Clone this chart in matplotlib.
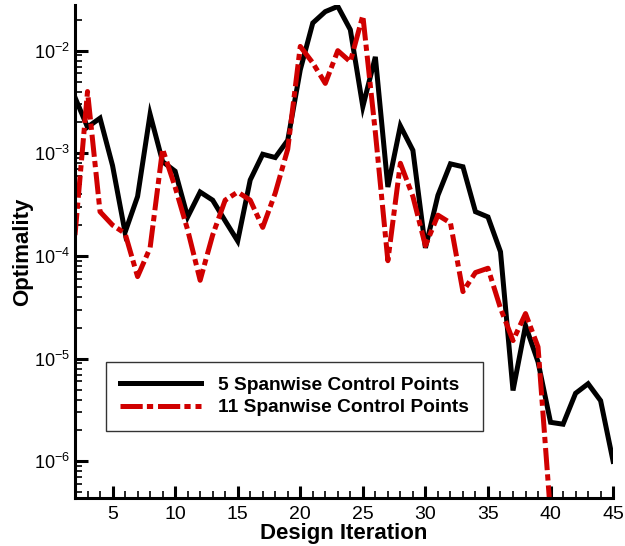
import matplotlib
matplotlib.use("Agg")
import matplotlib.pyplot as plt
from matplotlib.ticker import LogLocator, FixedLocator, MultipleLocator, NullFormatter

# Data
iter_5 = list(range(2, 46))
opt_5 = [3.5e-3, 1.8e-3, 2.2e-3, 7.6e-4, 1.7e-4, 3.8e-4, 2.4e-3, 8.3e-4, 6.7e-4, 2.4e-4,
         4.2e-4, 3.5e-4, 2.2e-4, 1.4e-4, 5.5e-4, 9.8e-4, 9.1e-4, 1.34e-3, 6.5e-3, 1.86e-2,
         2.4e-2, 2.7e-2, 1.6e-2, 2.85e-3, 8.7e-3, 4.7e-4, 1.85e-3, 1.07e-3, 1.2e-4, 3.9e-4,
         7.9e-4, 7.4e-4, 2.7e-4, 2.4e-4, 1.1e-4, 4.9e-6, 2.1e-5, 9.3e-6, 2.4e-6, 2.3e-6,
         4.6e-6, 5.7e-6, 3.9e-6, 1.0e-6]

iter_11 = list(range(2, 41))
opt_11 = [1.6e-4, 4.0e-3, 2.7e-4, 2.0e-4, 1.66e-4, 6.3e-5, 1.2e-4, 1.1e-3, 4.7e-4, 1.8e-4,
          5.8e-5, 1.6e-4, 3.5e-4, 4.2e-4, 3.5e-4, 1.9e-4, 4.1e-4, 1.1e-3, 1.1e-2, 7.6e-3,
          4.8e-3, 1.0e-2, 7.8e-3, 2.2e-2, 1.6e-3, 9.0e-5, 8.0e-4, 3.8e-4, 1.26e-4, 2.5e-4,
          2.1e-4, 4.5e-5, 6.9e-5, 7.6e-5, 3.1e-5, 1.5e-5, 2.75e-5, 1.3e-5, 3.0e-7]

labels = ["5 Spanwise Control Points", "11 Spanwise Control Points"]
xticks = [5, 10, 15, 20, 25, 30, 35, 40, 45]

plt.rcParams['font.family'] = ['Liberation Sans', 'DejaVu Sans']
plt.rcParams['mathtext.fontset'] = 'custom'
plt.rcParams['mathtext.rm'] = 'Liberation Sans'
plt.rcParams['mathtext.it'] = 'Liberation Sans'
plt.rcParams['mathtext.bf'] = 'Liberation Sans:bold'
plt.rcParams['axes.unicode_minus'] = False
plt.rcParams['lines.scale_dashes'] = False

fig = plt.figure(figsize=(6.25, 5.46), dpi=100)
ax = fig.add_axes([0.12, 0.088, 0.861, 0.903])

ax.plot(iter_5, opt_5, color='black', lw=3.6, label=labels[0], solid_joinstyle='miter')
ax.plot(iter_11, opt_11, color='#d00000', lw=3.6, dashes=(16, 3, 4.5, 3.5), label=labels[1])

ax.set_yscale('log')
ax.set_xlim(2, 45)
ax.set_ylim(4.4e-7, 2.79e-2)

for s in ['top', 'right']:
    ax.spines[s].set_visible(False)
for s in ['left', 'bottom']:
    ax.spines[s].set_linewidth(2.2)

ax.xaxis.set_major_locator(FixedLocator(xticks))
ax.xaxis.set_minor_locator(MultipleLocator(1))
ax.yaxis.set_major_locator(LogLocator(base=10, numticks=20))
ax.yaxis.set_minor_locator(LogLocator(base=10, subs=range(2, 10), numticks=20))
ax.yaxis.set_minor_formatter(NullFormatter())

ax.tick_params(axis='both', which='major', direction='in', length=9, width=2.2, labelsize=14, pad=6)
ax.tick_params(axis='y', which='major', labelsize=13, pad=3.5)
ax.tick_params(axis='both', which='minor', direction='in', length=5, width=1.2)

ax.set_xlabel("Design Iteration", fontsize=16, fontweight='bold', labelpad=0)
ax.set_ylabel("Optimality", fontsize=16, fontweight='bold')
ax.yaxis.set_label_coords(-0.077, 0.5)

leg = ax.legend(loc='upper left', bbox_to_anchor=(0.057, 0.275), frameon=True, fancybox=False,
                edgecolor='black', prop={'weight': 'bold', 'size': 13.8}, handlelength=4.2,
                borderpad=0.75, labelspacing=0.25, handletextpad=0.9, borderaxespad=0)
leg.get_frame().set_linewidth(1.0)

fig.savefig("out.png", dpi=100)
